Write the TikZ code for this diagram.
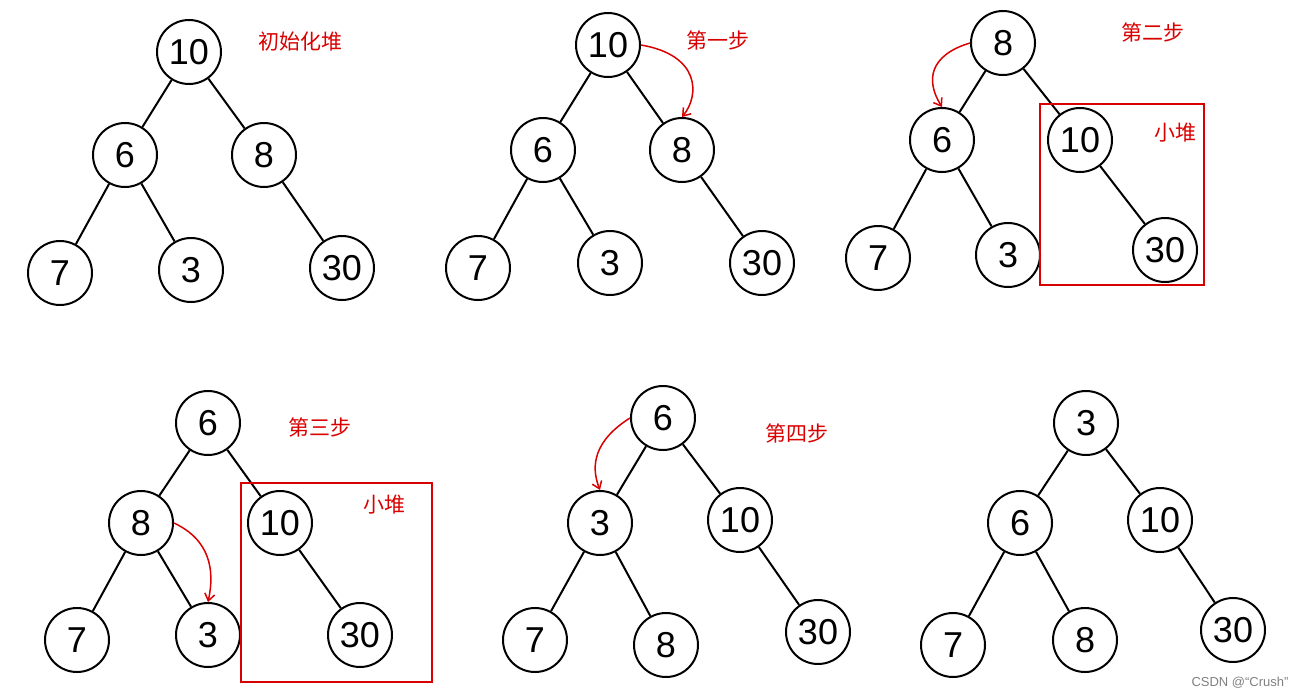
\documentclass[tikz,border=0pt]{standalone}
\usepackage{fontspec}
\setmainfont{Liberation Sans}
\newfontfamily\cjk{Noto Sans CJK SC}
\usetikzlibrary{arrows.meta}
\begin{document}
\begin{tikzpicture}[x=1pt,y=-1pt,
  nd/.style={circle,draw,line width=2pt,minimum size=64pt,inner sep=0pt,font=\fontsize{36}{36}\selectfont},
  ed/.style={line width=2pt},
  lab/.style={text=red!85!black,font=\cjk\fontsize{21}{21}\selectfont},
  hl/.style={draw=red!85!black,line width=2pt},
  ra/.style={red!85!black,line width=1.5pt,-{Straight Barb[length=7pt,width=10pt]}}]
\useasboundingbox (0,0) rectangle (1314,699);
% tree 1
\node[nd] (a1) at (189,52) {10};
\node[nd] (a2) at (125,155) {6};
\node[nd] (a3) at (264,155) {8};
\node[nd] (a4) at (60,273) {7};
\node[nd] (a5) at (191,270) {3};
\node[nd] (a6) at (342,268) {30};
\draw[ed] (a1)--(a2) (a1)--(a3) (a2)--(a4) (a2)--(a5) (a3)--(a6);
\node[lab] (l1) at (300,42) {初始化堆};
% tree 2
\node[nd] (b1) at (608,45) {10};
\node[nd] (b2) at (543,150) {6};
\node[nd] (b3) at (682,150) {8};
\node[nd] (b4) at (478,268) {7};
\node[nd] (b5) at (610,263) {3};
\node[nd] (b6) at (762,263) {30};
\draw[ed] (b1)--(b2) (b1)--(b3) (b2)--(b4) (b2)--(b5) (b3)--(b6);
\node[lab] (l2) at (718,40) {第一步};
\draw[ra] (b1.east) .. controls (700,55) and (700,95) .. (b3.north);
% tree 3
\node[nd] (c1) at (1003,43) {8};
\node[nd] (c2) at (942,140) {6};
\node[nd] (c3) at (1080,140) {10};
\node[nd] (c4) at (878,258) {7};
\node[nd] (c5) at (1008,255) {3};
\node[nd] (c6) at (1165,250) {30};
\draw[ed] (c1)--(c2) (c1)--(c3) (c2)--(c4) (c2)--(c5) (c3)--(c6);
\node[draw=none] (box3) at (1122,194.5) {};
\draw[hl] (1040,104) rectangle (1204,285);
\node[lab] (l3) at (1153,32) {第二步};
\node[lab] (l3b) at (1175,133) {小堆};
\draw[ra] (c1.west) .. controls (930,55) and (925,80) .. (c2.north);
% tree 4
\node[nd] (d1) at (208,423) {6};
\node[nd] (d2) at (141,523) {8};
\node[nd] (d3) at (280,523) {10};
\node[nd] (d4) at (77,640) {7};
\node[nd] (d5) at (208,635) {3};
\node[nd] (d6) at (360,635) {30};
\draw[ed] (d1)--(d2) (d1)--(d3) (d2)--(d4) (d2)--(d5) (d3)--(d6);
\draw[hl] (241,483) rectangle (432,682);
\node[lab] (l4) at (320,427) {第三步};
\node[lab] (l4b) at (384,505) {小堆};
\draw[ra] (d2.east) .. controls (210,540) and (215,570) .. (d5.north);
% tree 5
\node[nd] (e1) at (663,418) {6};
\node[nd] (e2) at (600,523) {3};
\node[nd] (e3) at (740,520) {10};
\node[nd] (e4) at (535,640) {7};
\node[nd] (e5) at (666,645) {8};
\node[nd] (e6) at (818,632) {30};
\draw[ed] (e1)--(e2) (e1)--(e3) (e2)--(e4) (e2)--(e5) (e3)--(e6);
\node[lab] (l5) at (797,433) {第四步};
\draw[ra] (e1.west) .. controls (595,440) and (590,465) .. (e2.north);
% tree 6
\node[nd] (f1) at (1086,423) {3};
\node[nd] (f2) at (1020,523) {6};
\node[nd] (f3) at (1160,520) {10};
\node[nd] (f4) at (953,645) {7};
\node[nd] (f5) at (1085,640) {8};
\node[nd] (f6) at (1233,630) {30};
\draw[ed] (f1)--(f2) (f1)--(f3) (f2)--(f4) (f2)--(f5) (f3)--(f6);
\node[text=gray,font=\fontsize{13}{13}\selectfont] (wm) at (1240,683) {CSDN @“Crush”};
\end{tikzpicture}
\end{document}
